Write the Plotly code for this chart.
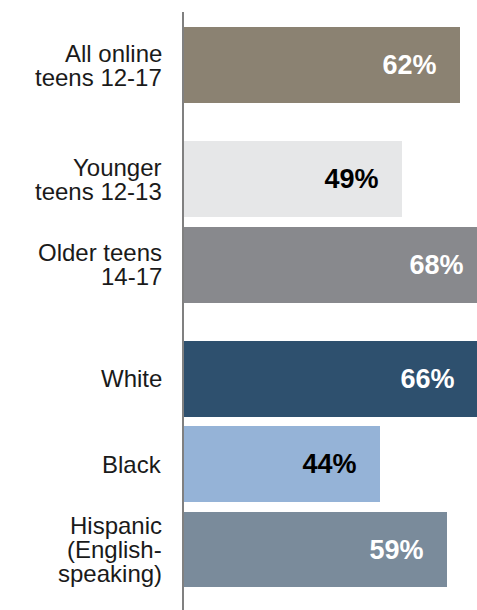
import plotly.graph_objects as go

categories = [['All online', 'teens 12-17'],
              ['Younger', 'teens 12-13'],
              ['Older teens', '14-17'],
              ['White'],
              ['Black'],
              ['Hispanic', '(English-', 'speaking)']]
groups = [0, 1, 1, 2, 2, 2]
values = [62, 49, 68, 66, 44, 59]
colors = ['#8b8272', '#e6e7e8', '#88898d', '#2e506e', '#95b3d7', '#7a8b9b']
text_colors = ['white', 'black', 'white', 'white', 'black', 'white']

# row positions: one unit per bar plus an extra gap between groups
gap = 0.34
ypos = [i + g * gap for i, g in enumerate(groups)]

pad = '\u00a0' * 2 + '\u2009'

fig = go.Figure()
fig.add_trace(go.Bar(
    x = values,
    y = ypos,
    orientation = 'h',
    marker = dict(color = colors, line = dict(width = 0)),
    width = 0.89,
    text = [f'{v}%{pad}' for v in values],
    textposition = 'inside',
    insidetextanchor = 'end',
    constraintext = 'none',
    textangle = 0,
    textfont = dict(family = 'Liberation Sans', size = 27, color = text_colors, weight = 'bold'),
    hoverinfo = 'skip'
))

# category labels, one annotation per line for tight line spacing
line_h = 24
for pos, lines in zip(ypos, categories):
    n = len(lines)
    for k, line in enumerate(lines):
        fig.add_annotation(
            x = 0, xref = 'paper', xanchor = 'right', xshift = -20,
            y = pos, yref = 'y', yanchor = 'middle',
            yshift = ((n - 1) / 2 - k) * line_h,
            text = line, showarrow = False,
            font = dict(family = 'Liberation Sans', size = 24, color = '#1a1a1a')
        )

px_per_row = 85.3
fig.update_layout(
    width = 477,
    height = 610,
    margin = dict(l = 184, r = 0, t = 12, b = 0),
    plot_bgcolor = 'white',
    paper_bgcolor = 'white',
    showlegend = False,
    bargap = 0
)
fig.update_xaxes(range = [0, 293 / 4.45], visible = False, fixedrange = True)
fig.update_yaxes(
    range = [(610 - 65) / px_per_row, (12 - 65) / px_per_row],
    showticklabels = False,
    ticks = '',
    showgrid = False,
    zeroline = False,
    showline = True,
    linecolor = '#808080',
    linewidth = 2,
    fixedrange = True
)
fig.write_html("out.html", config = dict(displayModeBar = False),
               post_script = "document.body.style.margin='0';document.body.style.overflow='hidden';")
